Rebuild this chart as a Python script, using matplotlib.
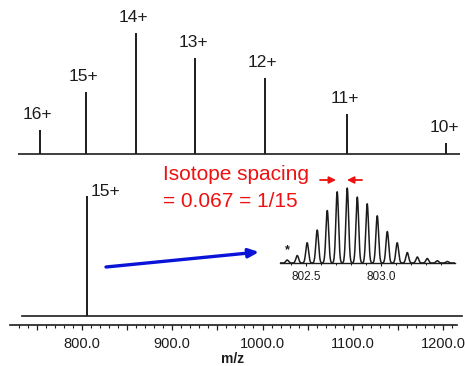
import numpy as np
import matplotlib
matplotlib.use("Agg")
import matplotlib.pyplot as plt
from matplotlib.ticker import MultipleLocator, FuncFormatter

plt.rcParams["font.family"] = ["Liberation Sans", "DejaVu Sans"]

# full ESI spectrum, charge-state envelope
charge_labels = ["16+", "15+", "14+", "13+", "12+", "11+", "10+"]
charge_mz = [753.0, 804.0, 859.7, 925.7, 1002.5, 1093.5, 1203.5]
charge_rel = [20, 51, 100, 79, 63, 33, 9]

# isolated 15+ ion
isolated_label = "15+"
isolated_mz = 806.0
isolated_rel = 100

# zoomed isotope pattern of the 15+ ion
iso_mz = [802.442, 802.508, 802.575, 802.642, 802.708, 802.775, 802.842, 802.908,
          802.975, 803.042, 803.108, 803.175, 803.242, 803.308, 803.375, 803.442]
iso_rel = [10, 27, 44, 70, 95, 100, 88, 79, 63, 42, 27, 14, 8, 6, 3, 2]
star_mz = 802.375
star_rel = 4

W, H = 465, 366
INK = "#1c1c1c"


def box(l, t, r, b):
    return [l / W, 1 - b / H, (r - l) / W, (b - t) / H]


def mz_at(px):
    # 800.0 sits at x=82 px, 100 m/z units span ~90 px
    return 800 + (px - 82) / 0.9025


fig = plt.figure(figsize=(W / 100, H / 100), dpi=100)

# top panel
ax_top = fig.add_axes(box(18, 20, 460, 158))
ax_top.set_xlim(mz_at(18), mz_at(460))
ax_top.set_ylim(-3.3, 110.7)
ax_top.axis("off")
ax_top.axhline(0, color=INK, lw=1.2)
ax_top.vlines(charge_mz, 0, charge_rel, color=INK, lw=1.4)
for lab, x, y in zip(charge_labels, charge_mz, charge_rel):
    ax_top.annotate(lab, (x, y), xytext=(-2, 8), textcoords="offset pixels",
                    ha="center", va="bottom", fontsize=12.5, color=INK)

# bottom panel
ax_bot = fig.add_axes(box(10, 165, 457, 325))
ax_bot.set_xlim(mz_at(10), mz_at(457))
ax_bot.set_ylim(-7.5, 125.8)
for s in ["top", "left", "right"]:
    ax_bot.spines[s].set_visible(False)
ax_bot.spines["bottom"].set_color(INK)
ax_bot.spines["bottom"].set_linewidth(1.2)
ax_bot.set_yticks([])
ax_bot.axhline(0, xmin=0.027, xmax=1.011, color=INK, lw=1.2, clip_on=False)
ax_bot.vlines([isolated_mz], 0, [isolated_rel], color=INK, lw=1.4)
ax_bot.annotate(isolated_label, (isolated_mz, isolated_rel), xytext=(3, 4),
                textcoords="offset pixels", ha="left", va="center",
                fontsize=12.5, color=INK)
ax_bot.xaxis.set_major_locator(MultipleLocator(50))
ax_bot.xaxis.set_minor_locator(MultipleLocator(10))
ax_bot.xaxis.set_major_formatter(
    FuncFormatter(lambda v, p: f"{v:.1f}" if abs(v % 100) < 1e-6 else ""))
ax_bot.tick_params(axis="x", which="major", length=3.5, width=0.9, color=INK,
                   labelsize=10.5, pad=5, labelcolor=INK)
ax_bot.tick_params(axis="x", which="minor", length=1.8, width=0.8, color=INK)
fig.text(233 / W, 1 - 359 / H, "m/z", fontsize=10, fontweight="bold",
         color=INK, ha="center", va="center")

# inset with isotope pattern
ax_in = fig.add_axes(box(280, 183, 455, 263))
ax_in.set_xlim(802.327, 803.493)
ax_in.set_ylim(0, 106.7)
for s in ["top", "left", "right"]:
    ax_in.spines[s].set_visible(False)
ax_in.spines["bottom"].set_color(INK)
ax_in.spines["bottom"].set_linewidth(1.0)
ax_in.set_yticks([])
xs = np.linspace(802.327, 803.493, 1200)
trace = np.zeros_like(xs)
for c, h in zip(iso_mz + [star_mz], iso_rel + [star_rel]):
    trace += h * np.exp(-0.5 * ((xs - c) / 0.009) ** 2)
ax_in.plot(xs, trace, color=INK, lw=1.1)
ax_in.text(star_mz, star_rel + 5, "*", ha="center", va="bottom", fontsize=9,
           fontweight="bold", color=INK)
ax_in.xaxis.set_major_locator(MultipleLocator(0.5))
ax_in.xaxis.set_minor_locator(MultipleLocator(0.1))
ax_in.xaxis.set_major_formatter(FuncFormatter(lambda v, p: f"{v:.1f}"))
ax_in.tick_params(axis="x", which="major", length=2.5, width=0.8, color=INK,
                  labelsize=8.5, pad=3.5, labelcolor=INK)
ax_in.tick_params(axis="x", which="minor", length=1.5, width=0.7, color=INK)

# red annotation and arrows, in figure pixel coordinates
red = "#ee1111"
fig.text(163 / W, 1 - 175 / H, "Isotope spacing", color=red, fontsize=15,
         ha="left", va="center")
fig.text(163 / W, 1 - 202 / H, "= 0.067 = 1/15", color=red, fontsize=15,
         ha="left", va="center")

ax_ann = fig.add_axes([0, 0, 1, 1], facecolor="none")
ax_ann.set_xlim(0, W)
ax_ann.set_ylim(H, 0)
ax_ann.axis("off")
small_head = "-|>,head_length=0.5,head_width=0.25"
ax_ann.annotate("", xy=(336, 180), xytext=(320, 180),
                arrowprops=dict(arrowstyle=small_head, color=red, lw=1.3,
                                mutation_scale=8, shrinkA=0, shrinkB=0))
ax_ann.annotate("", xy=(347, 180), xytext=(362, 180),
                arrowprops=dict(arrowstyle=small_head, color=red, lw=1.3,
                                mutation_scale=8, shrinkA=0, shrinkB=0))
ax_ann.annotate("", xy=(259, 252), xytext=(106, 267),
                arrowprops=dict(arrowstyle="-|>,head_length=0.5,head_width=0.22",
                                color="#0a14d8", lw=2.4, mutation_scale=12,
                                shrinkA=0, shrinkB=0))

fig.savefig("out.png", dpi=100)
